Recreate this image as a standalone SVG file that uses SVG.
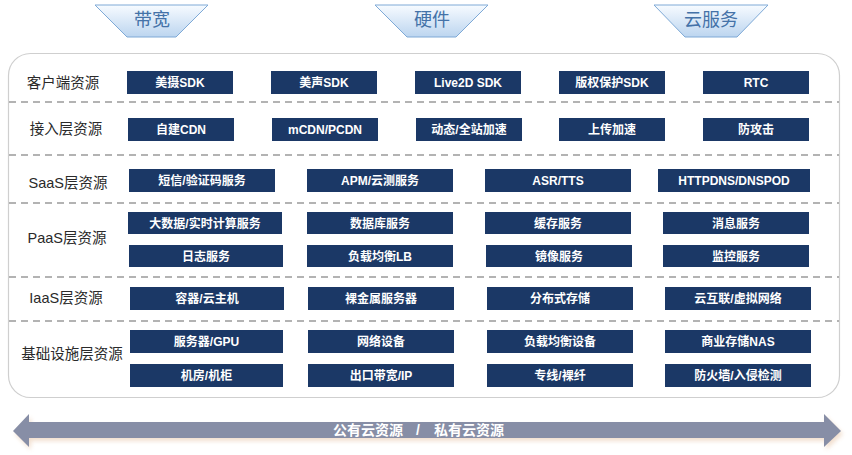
<svg xmlns="http://www.w3.org/2000/svg" width="852" height="455" viewBox="0 0 852 455">
<defs>
<linearGradient id="bg" x1="0" y1="0" x2="0" y2="1">
<stop offset="0" stop-color="#f7fbff"/>
<stop offset="1" stop-color="#bcd5ef"/>
</linearGradient>
<filter id="sh" x="-5%" y="-50%" width="110%" height="200%"><feGaussianBlur stdDeviation="2"/></filter>
</defs>
<style>
.ban{fill:url(#bg);stroke:#7ea9d6;stroke-width:1}
.bt{font-family:"Noto Sans CJK SC","Liberation Sans",sans-serif;font-size:18px;fill:#4472a8;text-anchor:middle}
.lbl{font-family:"Liberation Sans","Noto Sans CJK SC",sans-serif;font-size:14.5px;fill:#2a2a2a;text-anchor:middle}
.b rect{fill:#1b3866}
.b text{font-family:"Liberation Sans","Noto Sans CJK SC",sans-serif;font-size:12px;font-weight:bold;fill:#ffffff;text-anchor:middle}
.dash{stroke:#9a9a9a;stroke-width:1.4;stroke-dasharray:7 5}
.at{font-family:"Liberation Sans","Noto Sans CJK SC",sans-serif;font-size:14px;font-weight:bold;fill:#ffffff;text-anchor:middle}
</style>
<rect width="852" height="455" fill="#ffffff"/>

<g id="banner-bandwidth"><polygon class="ban" points="95,5 208,5 176,37 127,37"/><text class="bt" x="152" y="26">带宽</text></g>
<g id="banner-hardware"><polygon class="ban" points="375,5 488,5 456,37 407,37"/><text class="bt" x="432" y="26">硬件</text></g>
<g id="banner-cloud"><polygon class="ban" points="654,5 768,5 737,37 685,37"/><text class="bt" x="711" y="26">云服务</text></g>

<g id="panel">
<rect x="8.5" y="53.5" width="831" height="344" rx="22" fill="#ffffff" stroke="#cfcfcf" stroke-width="1.2"/>
<line class="dash" x1="9" y1="102" x2="839" y2="102"/>
<line class="dash" x1="9" y1="155" x2="839" y2="155"/>
<line class="dash" x1="9" y1="203" x2="839" y2="203"/>
<line class="dash" x1="9" y1="277" x2="839" y2="277"/>
<line class="dash" x1="9" y1="321" x2="839" y2="321"/>
</g>

<g id="labels">
<text class="lbl" x="63" y="88">客户端资源</text>
<text class="lbl" x="66" y="134">接入层资源</text>
<text class="lbl" x="68" y="188">SaaS层资源</text>
<text class="lbl" x="67" y="243">PaaS层资源</text>
<text class="lbl" x="66" y="303">IaaS层资源</text>
<text class="lbl" x="72" y="359">基础设施层资源</text>
</g>

<g id="row-client" class="b">
<g id="n-meishe"><rect x="127" y="71" width="106" height="23"/><text x="180" y="87">美摄SDK</text></g>
<g id="n-meisheng"><rect x="271" y="71" width="106" height="23"/><text x="324" y="87">美声SDK</text></g>
<g id="n-live2d"><rect x="415" y="71" width="106" height="23"/><text x="468" y="87">Live2D SDK</text></g>
<g id="n-copyright"><rect x="559" y="71" width="106" height="23"/><text x="612" y="87">版权保护SDK</text></g>
<g id="n-rtc"><rect x="703" y="71" width="106" height="23"/><text x="756" y="87">RTC</text></g>
</g>

<g id="row-access" class="b">
<g id="n-cdn"><rect x="128" y="118" width="106" height="23"/><text x="181" y="134">自建CDN</text></g>
<g id="n-mcdn"><rect x="272" y="118" width="106" height="23"/><text x="325" y="134">mCDN/PCDN</text></g>
<g id="n-dyn"><rect x="416" y="118" width="106" height="23"/><text x="469" y="134">动态/全站加速</text></g>
<g id="n-upload"><rect x="559" y="118" width="106" height="23"/><text x="612" y="134">上传加速</text></g>
<g id="n-ddos"><rect x="703" y="118" width="106" height="23"/><text x="756" y="134">防攻击</text></g>
</g>

<g id="row-saas" class="b">
<g id="n-sms"><rect x="129" y="169" width="146" height="23"/><text x="202" y="185">短信/验证码服务</text></g>
<g id="n-apm"><rect x="307" y="169" width="146" height="23"/><text x="380" y="185">APM/云测服务</text></g>
<g id="n-asr"><rect x="485" y="169" width="146" height="23"/><text x="558" y="185">ASR/TTS</text></g>
<g id="n-httpdns"><rect x="658" y="169" width="152" height="23"/><text x="734" y="185">HTTPDNS/DNSPOD</text></g>
</g>

<g id="row-paas" class="b">
<g id="n-bigdata"><rect x="128" y="212" width="154" height="22"/><text x="205" y="227.5">大数据/实时计算服务</text></g>
<g id="n-db"><rect x="307" y="212" width="146" height="22"/><text x="380" y="227.5">数据库服务</text></g>
<g id="n-cache"><rect x="485" y="212" width="146" height="22"/><text x="558" y="227.5">缓存服务</text></g>
<g id="n-msg"><rect x="663" y="212" width="146" height="22"/><text x="736" y="227.5">消息服务</text></g>
<g id="n-log"><rect x="129" y="245" width="154" height="22"/><text x="206" y="260.5">日志服务</text></g>
<g id="n-lb"><rect x="307" y="245" width="146" height="22"/><text x="380" y="260.5">负载均衡LB</text></g>
<g id="n-mirror"><rect x="486" y="245" width="146" height="22"/><text x="559" y="260.5">镜像服务</text></g>
<g id="n-monitor"><rect x="663" y="245" width="146" height="22"/><text x="736" y="260.5">监控服务</text></g>
</g>

<g id="row-iaas" class="b">
<g id="n-container"><rect x="130" y="287" width="154" height="23"/><text x="207" y="303">容器/云主机</text></g>
<g id="n-baremetal"><rect x="308" y="287" width="146" height="23"/><text x="381" y="303">裸金属服务器</text></g>
<g id="n-storage"><rect x="487" y="287" width="146" height="23"/><text x="560" y="303">分布式存储</text></g>
<g id="n-vnet"><rect x="665" y="287" width="146" height="23"/><text x="738" y="303">云互联/虚拟网络</text></g>
</g>

<g id="row-infra" class="b">
<g id="n-server"><rect x="130" y="330" width="153" height="23"/><text x="206.5" y="346">服务器/GPU</text></g>
<g id="n-netdev"><rect x="308" y="330" width="146" height="23"/><text x="381" y="346">网络设备</text></g>
<g id="n-lbdev"><rect x="487" y="330" width="146" height="23"/><text x="560" y="346">负载均衡设备</text></g>
<g id="n-nas"><rect x="665" y="330" width="146" height="23"/><text x="738" y="346">商业存储NAS</text></g>
<g id="n-idc"><rect x="130" y="364" width="153" height="23"/><text x="206.5" y="380">机房/机柜</text></g>
<g id="n-bw"><rect x="308" y="364" width="146" height="23"/><text x="381" y="380">出口带宽/IP</text></g>
<g id="n-line"><rect x="487" y="364" width="146" height="23"/><text x="560" y="380">专线/裸纤</text></g>
<g id="n-fw"><rect x="665" y="364" width="146" height="23"/><text x="738" y="380">防火墙/入侵检测</text></g>
</g>

<g id="connectors">
<polygon points="15,434 31,417 31,425 826,425 826,417 843,434 826,450 826,441 31,441 31,450" fill="#e2b995" opacity="0.45" filter="url(#sh)"/>
<polygon points="13,431 29,414 29,422 824,422 824,414 841,431 824,447 824,438 29,438 29,447" fill="#878ea6"/>
<text class="at" x="368" y="435">公有云资源</text>
<text class="at" x="418" y="435">/</text>
<text class="at" x="469" y="435">私有云资源</text>
</g>
</svg>
